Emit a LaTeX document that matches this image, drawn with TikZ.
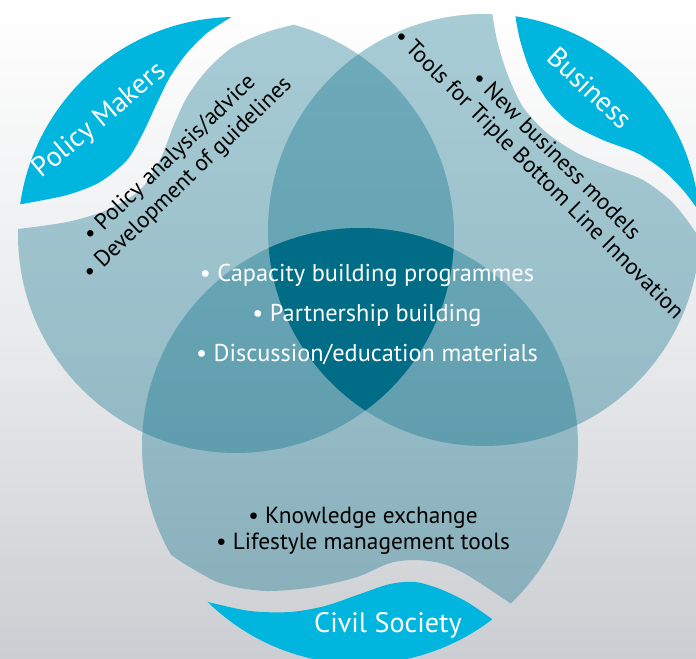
\documentclass[tikz,border=0pt]{standalone}
\usepackage{fontspec}
\setmainfont{PT Sans}
\definecolor{leafcyan}{RGB}{0,181,222}
\definecolor{lensteal}{RGB}{0,108,135}
\definecolor{coreteal}{RGB}{0,108,134}
\definecolor{bgmid}{RGB}{234,235,237}
\definecolor{bgbot}{RGB}{203,206,210}

\begin{document}
\begin{tikzpicture}[x=0.025cm,y=-0.025cm,
  lensfill/.style={fill=lensteal,fill opacity=0.34},
  leaffill/.style={fill=leafcyan},
  title/.style={text=white,inner sep=0pt,font=\fontsize{20}{20}\selectfont},
  point/.style={anchor=base,inner sep=0pt,font=\fontsize{16.6}{16.6}\selectfont},
  side/.style={inner sep=0pt,font=\fontsize{16.3}{16.3}\selectfont}]
	\clip (0,0) rectangle (696,658);
	\shade[top color=white,bottom color=bgbot,middle color=bgmid] (0,0) rectangle (696,658);
	\coordinate (pm) at (236,235);
	\coordinate (bu) at (484,230);
	\coordinate (cs) at (360,446);
	% Policy Makers
	\begin{scope}
		\clip plot[smooth] coordinates {(18,229) (67,222) (107,210) (140,190) (160,160) (173,127) (187,97) (207,70) (233,47) (267,32) (297,24)}
			-- (360,8) -- (760,-40) -- (760,720) -- (-40,720) -- (-40,238) -- cycle;
		\fill[lensfill] (pm) circle[radius=218];
	\end{scope}
	\begin{scope}
		\clip plot[smooth] coordinates {(22,204) (67,195) (100,182) (127,160) (143,133) (157,103) (170,77) (187,53) (207,33) (233,16)}
			-- (290,-25) -- (-50,-50) -- (-50,215) -- cycle;
		\fill[leaffill] (pm) circle[radius=218];
	\end{scope}
	% Business
	\begin{scope}
		\clip plot[smooth] coordinates {(492,12) (497,40) (507,73) (523,107) (547,133) (577,153) (610,167) (643,180) (670,200) (687,220) (696,233)}
			-- (730,290) -- (760,720) -- (-40,720) -- (-40,-40) -- (488,-40) -- cycle;
		\fill[lensfill] (bu) circle[radius=216];
	\end{scope}
	\begin{scope}
		\clip plot[smooth] coordinates {(515,14) (520,40) (530,70) (547,100) (570,123) (603,140) (637,153) (663,170) (683,190) (696,207)}
			-- (740,270) -- (760,-50) -- (505,-50) -- cycle;
		\fill[leaffill] (bu) circle[radius=216];
	\end{scope}
	% Civil Society
	\begin{scope}
		\clip plot[smooth] coordinates {(167,552) (183,563) (200,573) (217,582) (240,588) (267,591) (300,589) (330,584) (360,576) (390,563) (415,560) (440,563) (460,571) (480,583) (510,603)}
			-- (560,640) -- (760,640) -- (760,-40) -- (-40,-40) -- (-40,520) -- (130,530) -- cycle;
		\fill[lensfill] (cs) circle[radius=218];
	\end{scope}
	\begin{scope}
		\clip plot[smooth] coordinates {(208,602) (250,611) (290,612) (325,606) (360,594) (390,584) (415,582) (440,589) (467,602) (492,619)}
			-- (540,660) -- (540,720) -- (150,720) -- (150,590) -- cycle;
		\fill[leaffill] (cs) circle[radius=218];
	\end{scope}
	% common core
	\begin{scope}
		\clip (pm) circle[radius=218];
		\clip (bu) circle[radius=216];
		\fill[coreteal] (cs) circle[radius=218];
	\end{scope}

	\node[title,rotate=40] (pmtitle) at (100,121) {Policy Makers};
	\node[title,rotate=-43] (butitle) at (590,88) {Business};
	\node[title,anchor=base] (cstitle) at (388,632) {Civil Society};

	\node[side,rotate=44] (pm1) at (170,159) {• Policy analysis/advice};
	\node[side,rotate=44] (pm2) at (188,179) {• Development of guidelines};
	\node[side,rotate=-45] (bu1) at (557,155) {• New business models};
	\node[side,rotate=-45] (bu2) at (538,175) {• Tools for Triple Bottom Line Innovation};

	\node[point,text=white,font=\fontsize{17.3}{17.3}\selectfont] (core1) at (367,281) {• Capacity building programmes};
	\node[point,text=white,font=\fontsize{17.3}{17.3}\selectfont] (core2) at (367,321) {• Partnership building};
	\node[point,text=white,font=\fontsize{17.3}{17.3}\selectfont] (core3) at (367,361) {• Discussion/education materials};
	\node[point] (cs1) at (363,523) {• Knowledge exchange};
	\node[point] (cs2) at (363,549) {• Lifestyle management tools};
\end{tikzpicture}
\end{document}
